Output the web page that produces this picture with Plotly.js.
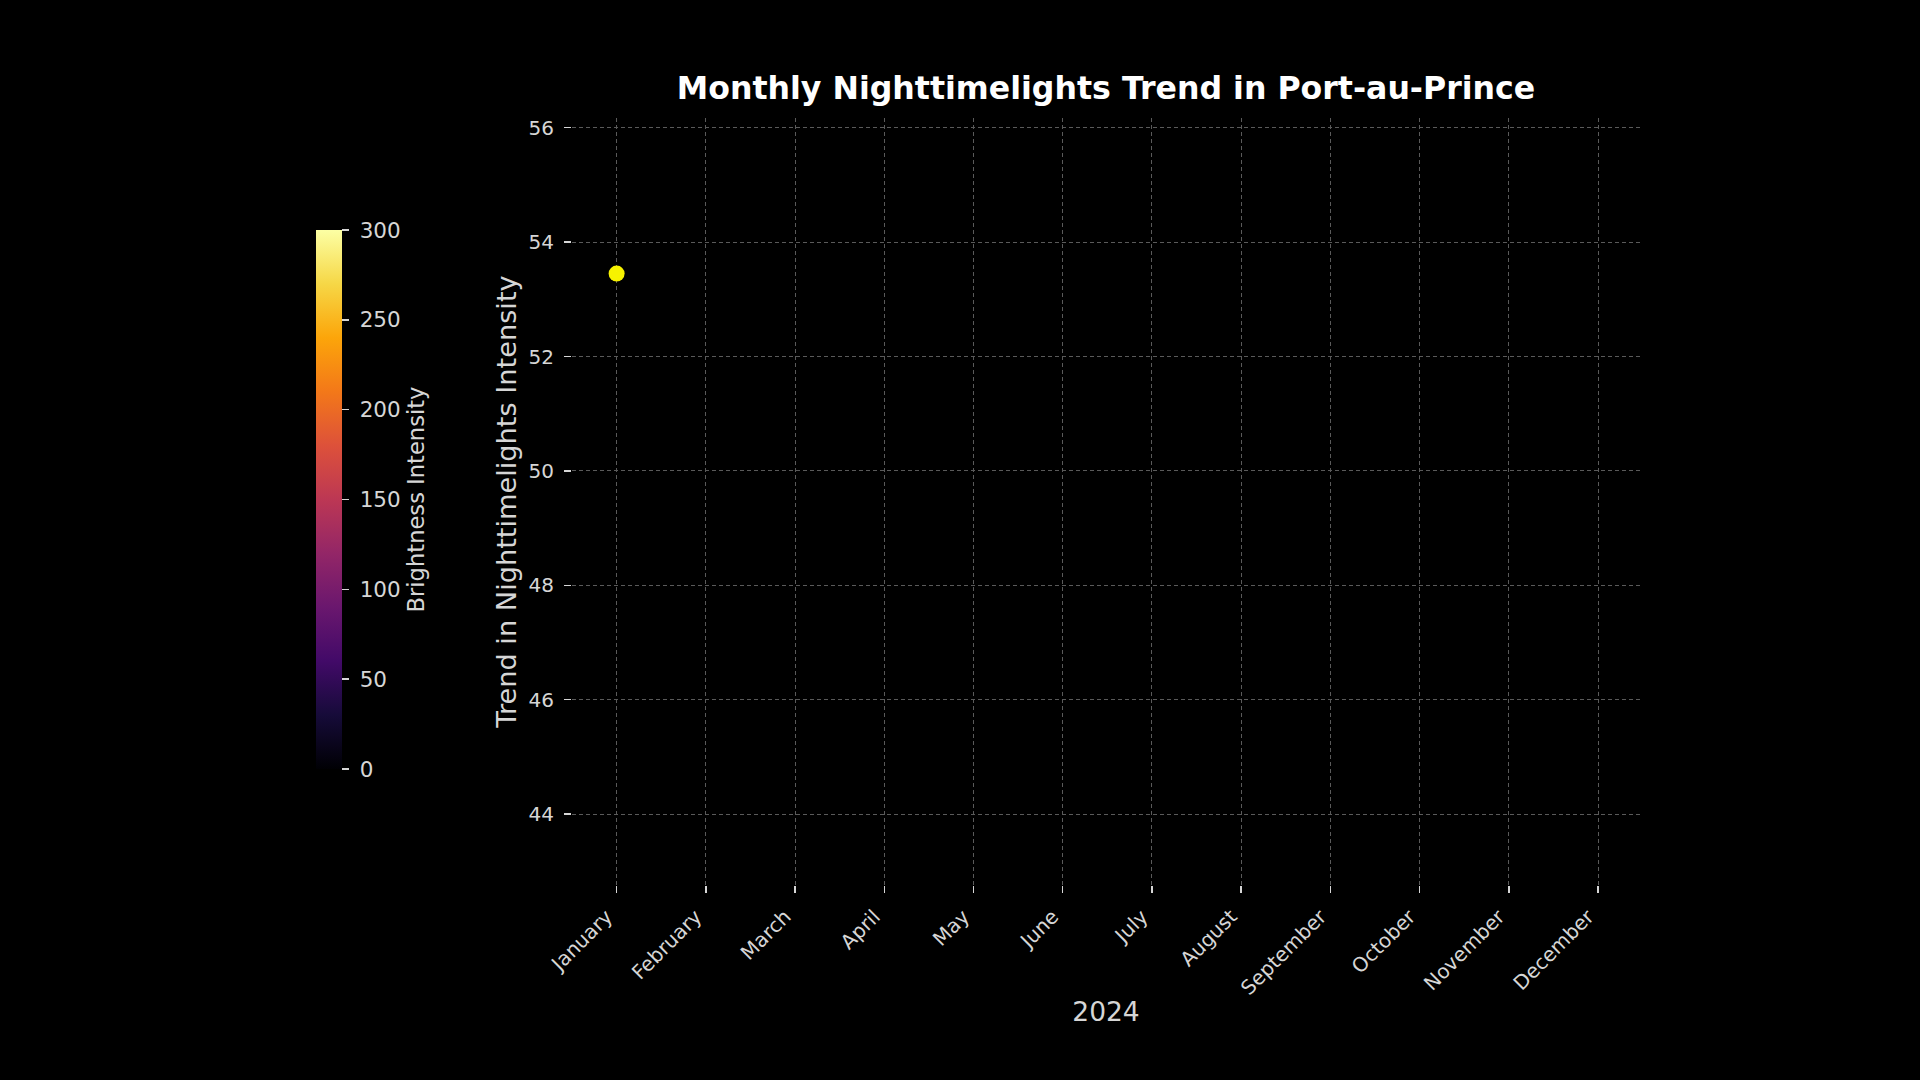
<!DOCTYPE html>
<html>
<head>
<meta charset="utf-8">
<script src="https://cdn.plot.ly/plotly-3.0.1.min.js"></script>
<style>
  html, body { margin: 0; padding: 0; background: #000; }
  #chart { width: 1920px; height: 1080px; }
</style>
</head>
<body>
<div id="chart"></div>
<script>
// ---- data ----
const months = ["January", "February", "March", "April", "May", "June",
                "July", "August", "September", "October", "November", "December"];
const obsMonths = ["January"];
const obsValues = [53.45];
const yTickVals = [44, 46, 48, 50, 52, 54, 56];
const cbMin = 0;
const cbMax = 300;
const cbTickVals = [0, 50, 100, 150, 200, 250, 300];

const inferno = [
  [0.0, "#000004"], [0.1, "#160b39"], [0.2, "#420a68"], [0.3, "#6a176e"],
  [0.4, "#932667"], [0.5, "#bc3754"], [0.6, "#dd513a"], [0.7, "#f37819"],
  [0.8, "#fca50a"], [0.9, "#f6d746"], [1.0, "#fcffa4"]
];

const FONT = "DejaVu Sans, Liberation Sans, sans-serif";
const TICKCOL = "#d6d6d6";

// plot-area pixel geometry
const W = 1920, H = 1080;
const L = 572, R = 1640, T = 118, B = 885;
const plotW = R - L, plotH = B - T;

// colorbar tick labels, padded a little away from the tick marks
const cbTickText = cbTickVals.map(v => "\u200B\u00A0" + String(v));

const traces = [
  {
    // colour-scale carrier (only for the colorbar)
    type: "scatter",
    mode: "markers",
    x: obsMonths,
    y: obsValues,
    hoverinfo: "skip",
    showlegend: false,
    marker: {
      size: 1,
      opacity: 0,
      color: [cbMax],
      cmin: cbMin,
      cmax: cbMax,
      colorscale: inferno,
      showscale: true,
      colorbar: {
        orientation: "v",
        thickness: 26,
        thicknessmode: "pixels",
        len: 539,
        lenmode: "pixels",
        x: (316 - L) / plotW,
        xanchor: "left",
        xref: "paper",
        y: (B - 230) / plotH,
        yanchor: "top",
        yref: "paper",
        xpad: 0,
        ypad: 0,
        outlinewidth: 0,
        borderwidth: 0,
        bgcolor: "rgba(0,0,0,0)",
        tickmode: "array",
        tickvals: cbTickVals,
        ticktext: cbTickText,
        ticks: "outside",
        ticklen: 7,
        tickwidth: 1.5,
        tickcolor: TICKCOL,
        tickfont: { family: FONT, size: 21.5, color: TICKCOL },
        title: {
          text: "Brightness Intensity",
          side: "right",
          font: { family: FONT, size: 22.6, color: TICKCOL }
        }
      }
    }
  },
  {
    type: "scatter",
    mode: "markers",
    x: obsMonths,
    y: obsValues,
    showlegend: false,
    marker: { size: 16, color: "#f7f200", line: { width: 0 } }
  }
];

const layout = {
  width: W,
  height: H,
  paper_bgcolor: "#000000",
  plot_bgcolor: "#000000",
  margin: { l: L, r: W - R, t: T, b: H - B, pad: 0 },
  font: { family: FONT, color: TICKCOL },
  showlegend: false,
  title: {
    text: "<b>Monthly Nighttimelights Trend in Port-au-Prince</b>",
    font: { family: FONT, size: 31.6, color: "#ffffff" },
    x: (L + plotW / 2) / W,
    xref: "container",
    xanchor: "center",
    y: 1 - 88 / H,
    yref: "container",
    yanchor: "middle"
  },
  xaxis: {
    type: "category",
    categoryorder: "array",
    categoryarray: months,
    tickmode: "array",
    tickvals: months,
    ticktext: months,
    range: [-0.5, 11.47],
    tickangle: -45,
    ticks: "outside",
    ticklen: 7,
    tickwidth: 1.5,
    tickcolor: TICKCOL,
    ticklabelstandoff: 4,
    ticklabelshift: -10,
    tickfont: { family: FONT, size: 20, color: TICKCOL },
    showgrid: true,
    gridcolor: "#5a5a5a",
    gridwidth: 1,
    griddash: "4px,3px",
    showline: false,
    zeroline: false,
    fixedrange: true,
    automargin: false,
    title: {
      text: "2024",
      font: { family: FONT, size: 26.5, color: TICKCOL },
      standoff: 3
    }
  },
  yaxis: {
    range: [42.76, 56.17],
    tickmode: "array",
    tickvals: yTickVals,
    ticks: "outside",
    ticklen: 7,
    tickwidth: 1.5,
    tickcolor: TICKCOL,
    ticklabelstandoff: 6,
    tickfont: { family: FONT, size: 20, color: TICKCOL },
    showgrid: true,
    gridcolor: "#5a5a5a",
    gridwidth: 1,
    griddash: "4px,3px",
    showline: false,
    zeroline: false,
    fixedrange: true,
    automargin: false,
    title: {
      text: "Trend in Nighttimelights Intensity",
      font: { family: FONT, size: 27.2, color: TICKCOL },
      standoff: 4
    }
  }
};

Plotly.newPlot("chart", traces, layout, { staticPlot: true, displayModeBar: false });
</script>
</body>
</html>
